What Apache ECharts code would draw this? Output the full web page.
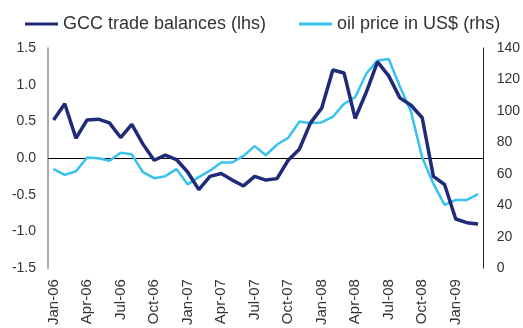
<!DOCTYPE html>
<html>
<head>
<meta charset="utf-8">
<script src="https://cdn.jsdelivr.net/npm/echarts@6/dist/echarts.min.js"></script>
<style>
  html, body { margin: 0; padding: 0; background: #fff; }
  #chart { width: 523px; height: 328px; }
</style>
</head>
<body>
<div id="chart"></div>
<script>
// Monthly observations, Jan-06 to Mar-09
const months = [
  'Jan-06','Feb-06','Mar-06','Apr-06','May-06','Jun-06','Jul-06','Aug-06','Sep-06','Oct-06','Nov-06','Dec-06',
  'Jan-07','Feb-07','Mar-07','Apr-07','May-07','Jun-07','Jul-07','Aug-07','Sep-07','Oct-07','Nov-07','Dec-07',
  'Jan-08','Feb-08','Mar-08','Apr-08','May-08','Jun-08','Jul-08','Aug-08','Sep-08','Oct-08','Nov-08','Dec-08',
  'Jan-09','Feb-09','Mar-09'
];

// GCC trade balances (left axis)
const tradeBalance = [
  0.52, 0.74, 0.27, 0.52, 0.53, 0.48, 0.28, 0.46, 0.19, -0.03, 0.04, -0.02,
  -0.19, -0.43, -0.25, -0.21, -0.30, -0.38, -0.25, -0.30, -0.28, -0.03, 0.12, 0.48,
  0.68, 1.20, 1.16, 0.54, 0.90, 1.31, 1.12, 0.82, 0.72, 0.55, -0.25, -0.36,
  -0.83, -0.88, -0.90
];

// Oil price in US$ (right axis)
const oilPrice = [
  63.0, 59.3, 61.6, 70.3, 69.9, 68.3, 73.4, 72.4, 61.0, 57.2, 58.5, 63.0,
  53.3, 57.9, 62.0, 67.2, 67.2, 71.4, 77.6, 71.8, 78.6, 82.8, 93.2, 92.1,
  92.7, 96.3, 104.5, 108.7, 123.8, 132.1, 133.0, 115.5, 99.4, 70.3, 53.7, 40.2,
  43.4, 43.4, 47.0
];

const navy = '#1f2a78';
const sky = '#38c2f0';
const textColor = '#333333';
const font = 'Liberation Sans, Arial, sans-serif';

const chart = echarts.init(document.getElementById('chart'), null, { renderer: 'canvas' });
chart.setOption({
  animation: false,
  backgroundColor: '#ffffff',
  textStyle: { fontFamily: font },
  legend: {
    data: [
      { name: 'GCC trade balances (lhs)', itemStyle: { color: navy } },
      { name: 'oil price in US$ (rhs)', itemStyle: { color: sky } }
    ],
    icon: 'rect',
    left: 20,
    top: 10,
    itemWidth: 33,
    itemHeight: 3,
    itemGap: 33,
    textStyle: { fontSize: 18, color: textColor, fontFamily: font }
  },
  grid: { left: 48, right: 38, top: 48, bottom: 55 },
  xAxis: {
    type: 'category',
    data: months,
    boundaryGap: true,
    axisLine: { show: false },
    axisTick: { show: false },
    axisLabel: {
      interval: 2,
      rotate: 90,
      margin: 11,
      fontSize: 15,
      color: textColor,
      fontFamily: font
    },
    splitLine: { show: false }
  },
  yAxis: [
    {
      type: 'value',
      min: -1.5,
      max: 1.5,
      interval: 0.5,
      position: 'left',
      axisLine: { show: true, lineStyle: { color: '#8c8c8c', width: 1.5 } },
      axisTick: { show: false },
      splitLine: { show: false },
      axisLabel: {
        margin: 12,
        fontSize: 14,
        color: textColor,
        fontFamily: font,
        formatter: v => v.toFixed(1)
      }
    },
    {
      type: 'value',
      min: 0,
      max: 140,
      interval: 20,
      position: 'right',
      axisLine: { show: true, lineStyle: { color: '#222222', width: 1 } },
      axisTick: { show: false },
      splitLine: { show: false },
      axisLabel: {
        margin: 13,
        fontSize: 14,
        color: textColor,
        fontFamily: font
      }
    }
  ],
  series: [
    {
      name: 'oil price in US$ (rhs)',
      type: 'line',
      yAxisIndex: 1,
      data: oilPrice,
      symbol: 'none',
      lineStyle: { color: sky, width: 2.5 },
      itemStyle: { color: sky },
      z: 2
    },
    {
      name: 'GCC trade balances (lhs)',
      type: 'line',
      yAxisIndex: 0,
      data: tradeBalance,
      symbol: 'none',
      lineStyle: { color: navy, width: 3.5 },
      itemStyle: { color: navy },
      z: 3,
      markLine: {
        silent: true,
        symbol: ['none', 'none'],
        label: { show: false },
        lineStyle: { color: '#000000', width: 1, type: 'solid' },
        data: [{ yAxis: 0 }],
        z: 1
      }
    }
  ]
});
</script>
</body>
</html>
